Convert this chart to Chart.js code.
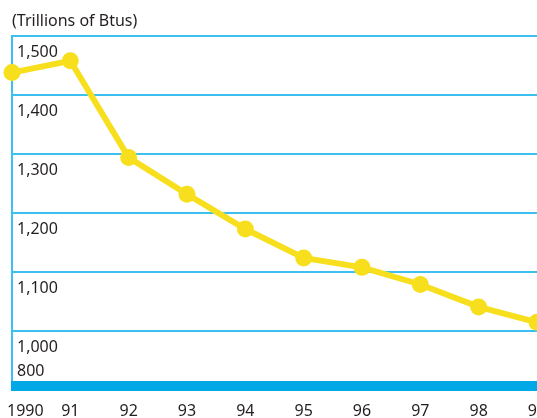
<!DOCTYPE html>
<html><head><meta charset="utf-8">
<script src="https://cdn.jsdelivr.net/npm/chart.js@4.4.1/dist/chart.umd.min.js"></script>
<style>html,body{margin:0;padding:0;background:#fff}#wrap{width:537px;height:418px;position:relative}</style>
</head><body><div id="wrap"><canvas id="c"></canvas></div>
<script>
// ---- data ----
const years = ['1990','91','92','93','94','95','96','97','98','99'];
const consumption = [1438,1458,1294,1232,1173,1124,1108,1079,1041,1015];
const yTickValues = [1000,1100,1200,1300,1400,1500];
const brokenAxisLabel = '800';
const unitLabel = '(Trillions of Btus)';

// ---- styles ----
const FONT = "'Noto Sans', 'Open Sans', sans-serif";
const TEXT = '#231f20';
const GRID = '#3dbfef';
const BAR = '#00a9e6';
const LINE = '#f7df1e';

const axisBar = {
  id: 'axisBar',
  beforeDatasetsDraw(chart) {
    const ctx = chart.ctx, area = chart.chartArea;
    ctx.save();
    ctx.fillStyle = BAR;
    ctx.fillRect(area.left - 1, area.bottom - 5, area.right - area.left + 1, 10);
    ctx.restore();
  }
};

const extraLabels = {
  id: 'extraLabels',
  afterDraw(chart) {
    const ctx = chart.ctx, x = chart.scales.x, area = chart.chartArea;
    ctx.save();
    ctx.font = '16px ' + FONT;
    ctx.fillStyle = TEXT;
    ctx.textBaseline = 'alphabetic';
    x.ticks.forEach((t, i) => {
      const px = x.getPixelForTick(i);
      const label = x.getLabelForValue(t.value);
      if (i === 0) { ctx.textAlign = 'left'; ctx.fillText(label, px - 5, 416); }
      else { ctx.textAlign = 'center'; ctx.fillText(label, px, 416); }
    });
    ctx.textAlign = 'left';
    ctx.textBaseline = 'middle';
    ctx.fillText(brokenAxisLabel, area.left + 5, area.bottom - 14.5);
    ctx.restore();
  }
};

new Chart(document.getElementById('c'), {
  type: 'line',
  data: {
    labels: years,
    datasets: [{
      data: consumption,
      borderColor: LINE,
      backgroundColor: LINE,
      borderWidth: 6,
      pointRadius: 8.5,
      pointBackgroundColor: LINE,
      pointBorderWidth: 0,
      tension: 0,
      clip: false
    }]
  },
  options: {
    responsive: true,
    maintainAspectRatio: false,
    animation: false,
    events: [],
    layout: { autoPadding: false, padding: { top: 0, left: 12, right: 0, bottom: 32 } },
    plugins: {
      legend: { display: false },
      tooltip: { enabled: false },
      title: {
        display: true, text: unitLabel, align: 'start', color: TEXT,
        font: { family: FONT, size: 16, weight: 'normal' },
        padding: { top: 11.4, bottom: 5.4 }
      }
    },
    scales: {
      x: {
        type: 'category',
        offset: false,
        grid: { display: false, drawTicks: false },
        border: { display: false },
        ticks: { display: false }
      },
      y: {
        min: 907, max: 1500,
        afterBuildTicks: s => { s.ticks = yTickValues.map(v => ({ value: v })); },
        afterFit: s => { s.width = 0; },
        grid: { color: GRID, lineWidth: 2, drawTicks: false },
        border: { display: true, color: GRID, width: 2 },
        ticks: {
          mirror: true, padding: 5, labelOffset: 16, color: TEXT,
          font: { family: FONT, size: 16 },
          callback: v => v.toLocaleString('en-US')
        }
      }
    }
  },
  plugins: [axisBar, extraLabels]
});
</script></body></html>
